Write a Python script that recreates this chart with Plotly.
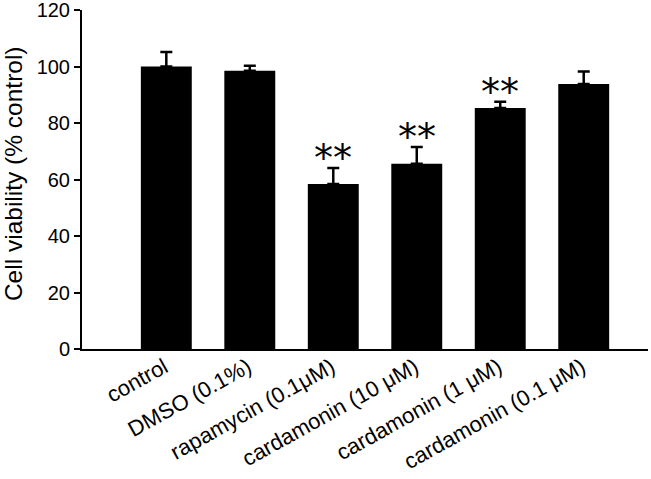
import plotly.graph_objects as go

categories = ["control", "DMSO (0.1%)", "rapamycin (0.1μM)", "cardamonin (10 μM)",
              "cardamonin (1 μM)", "cardamonin (0.1 μM)"]
values = [100.0, 98.5, 58.4, 65.6, 85.3, 93.8]
errors = [5.1, 1.8, 5.7, 5.9, 2.2, 4.4]
signif = ["", "", "**", "**", "**", ""]
y_ticks = [0, 20, 40, 60, 80, 100, 120]

x_idx = list(range(len(categories)))

fig = go.Figure()
fig.add_trace(go.Bar(
    x=x_idx, y=values,
    marker=dict(color="black", line=dict(width=0)),
    width=0.61,
    error_y=dict(type="data", array=errors, arrayminus=[0]*len(errors),
                 symmetric=False, color="black", thickness=2.5, width=6),
))

for i, (v, e, s) in enumerate(zip(values, errors, signif)):
    if s:
        fig.add_annotation(x=i, y=v + e, text=s, showarrow=False, yanchor="bottom",
                           yshift=-14, font=dict(family="DejaVu Sans", size=38, color="black"))

fig.add_annotation(xref="paper", yref="paper", x=-69/566, y=0.516,
                   text="Cell viability (% control)", textangle=-90, showarrow=False,
                   xanchor="center", yanchor="middle",
                   font=dict(family="Liberation Sans, Arial", size=24.5, color="black"))

fig.update_layout(
    width=651, height=479,
    margin=dict(l=82, r=3, t=10, b=130),
    paper_bgcolor="white", plot_bgcolor="white",
    showlegend=False,
    font=dict(family="Liberation Sans, Arial", size=20, color="black"),
    xaxis=dict(
        range=[-1.01, 5.77], tickmode="array", tickvals=x_idx, ticktext=categories,
        tickangle=-29, showline=True, linecolor="black", linewidth=2,
        ticks="", showgrid=False, zeroline=False, automargin=False,
        ticklabeloverflow="allow", ticklabelshift=-2, ticklabelstandoff=-5,
        tickfont=dict(size=22),
    ),
    yaxis=dict(
        range=[0, 120], tickmode="array", tickvals=y_ticks,
        showline=True, linecolor="black", linewidth=2,
        ticks="outside", ticklen=6, tickwidth=2, tickcolor="black",
        showgrid=False, zeroline=False, automargin=False,
        ticklabeloverflow="allow",
        tickfont=dict(size=20),
    ),
)

fig.write_html("out.html", post_script="document.body.style.margin='0';",
               config={"displayModeBar": False})
